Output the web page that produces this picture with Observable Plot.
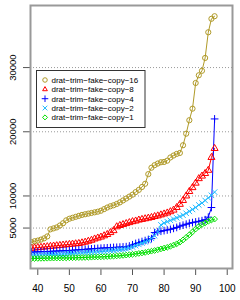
<!DOCTYPE html>
<html><head><meta charset="utf-8">
<script src="https://cdn.jsdelivr.net/npm/d3@7"></script>
<script src="https://cdn.jsdelivr.net/npm/@observablehq/plot@0.6"></script>
<style>body{margin:0;background:#fff} svg{display:block}</style>
</head><body><div id="chart"></div>
<script>
const seriesNames = ["drat−trim−fake−copy−16", "drat−trim−fake−copy−8", "drat−trim−fake−copy−4", "drat−trim−fake−copy−2", "drat−trim−fake−copy−1"];
const colors = ["#b09a28", "#ff0000", "#0000ff", "#22bbff", "#00e000"];
const symbolNames = ["circle", "triangle", "plus", "times", "diamond2"];
const firstX = 38;
const xTicks = [40, 50, 60, 70, 80, 90, 100];
const yTicks = [5000, 10000, 20000, 30000];

const copy16 = [2800,2950,3050,3200,3400,3700,4800,4950,5100,5400,5750,6200,6450,6600,6750,6900,7050,7150,7250,7350,7450,7550,7700,7950,8200,8400,8550,8750,9000,9300,9600,9900,10200,10600,10950,11400,11900,13400,14400,14800,15050,15250,15300,15500,16000,16300,16550,16700,17900,19700,21800,23600,27600,28800,29500,31500,35500,37600,38000];
const copy8 = [1850,1900,1950,2000,2050,2100,2150,2200,2250,2300,2350,2400,2450,2500,2550,2600,2700,2800,2950,3100,3300,3450,3600,3800,4000,4300,4600,5200,5400,5550,5700,5850,6000,6100,6250,6350,6450,6550,6650,6800,6900,7050,7200,7350,7550,7800,8200,8700,9300,10000,10700,11300,12000,12700,13100,13500,14000,16000,17400];
const copy4 = [1250,1270,1290,1310,1330,1350,1370,1390,1410,1430,1450,1480,1510,1540,1570,1600,1640,1680,1720,1760,1800,1830,1860,1890,1920,1950,1980,2000,2030,2060,2100,2200,2400,2600,2750,2900,3050,3200,3350,4300,4400,4500,4600,4700,4800,4950,5100,5300,5450,5600,5750,5850,5950,6050,6150,6300,6700,8200,22000];
const copy2 = [750,770,790,810,830,850,870,890,910,930,960,990,1020,1050,1080,1110,1140,1170,1200,1230,1260,1300,1340,1380,1420,1470,1520,1580,1640,1700,1770,1900,2050,2250,2450,2650,2850,3050,3400,3800,4400,5500,5800,6000,6200,6400,6600,6800,7000,7300,7600,7900,8200,8600,8900,9300,9700,10100,10600];
const copy1 = [250,260,270,280,290,300,310,320,330,340,350,360,370,380,390,400,410,420,440,460,480,500,520,540,560,590,620,660,700,740,790,850,910,980,1050,1120,1200,1300,1400,1500,1620,1750,1880,2000,2150,2350,2550,2800,3150,3550,3950,4400,4850,5250,5550,5800,6050,6250,6400];

const rows = [];
[copy16, copy8, copy4, copy2, copy1].forEach((vals, s) =>
  vals.forEach((v, i) => rows.push({series: seriesNames[s], n: firstX + i, t: v})));

const font = "'Liberation Sans', Arial, Helvetica, sans-serif";

const chart = Plot.plot({
  width: 240, height: 300,
  marginLeft: 30, marginRight: 8, marginTop: 5, marginBottom: 32,
  style: {fontFamily: font, fontSize: "9.5px", background: "#fff", color: "#000"},
  x: {domain: [37.69, 101.67]},
  y: {domain: [-1300, 39670]},
  color: {domain: seriesNames, range: colors},
  symbol: {domain: seriesNames, range: symbolNames},
  marks: [
    Plot.gridY(yTicks, {stroke: "#999", strokeOpacity: 1, strokeDasharray: "1,2"}),
    Plot.line(rows, {x: "n", y: "t", z: "series", stroke: "series", strokeWidth: 1, clip: true}),
    Plot.dot(rows, {x: "n", y: "t", stroke: "series", symbol: "series", r: 2.6, strokeWidth: 1, clip: true}),
    Plot.axisX(xTicks, {tickSize: 7, tickPadding: 9, stroke: "#555", label: null, fontSize: 10}),
    Plot.axisY(yTicks, {tickSize: 7, stroke: "#555", label: null, tickFormat: () => ""}),
    Plot.text(yTicks, {y: d => d, frameAnchor: "left", dx: -18, rotate: -90, text: d => String(d), textAnchor: "middle", fontSize: 9.5}),
    Plot.frame({stroke: "#999", strokeWidth: 2})
  ]
});
document.getElementById("chart").appendChild(chart);

// legend inside plot area
const d3Symbols = [d3.symbolCircle, d3.symbolTriangle2, d3.symbolPlus, d3.symbolTimes, d3.symbolDiamond2];
const svg = d3.select(chart);
const lg = svg.append("g").attr("text-anchor", "start");
lg.append("rect").attr("x", 36.5).attr("y", 70.5).attr("width", 108.5).attr("height", 57)
  .attr("fill", "#fff").attr("stroke", "#333").attr("stroke-width", 1);
seriesNames.forEach((name, i) => {
  const cy = 80 + i * 9.35;
  lg.append("path").attr("d", d3.symbol(d3Symbols[i], 16)())
    .attr("transform", `translate(45,${cy})`).attr("fill", "none").attr("stroke", colors[i]).attr("stroke-width", 1);
  lg.append("text").attr("x", 51.5).attr("y", cy).attr("dy", "0.35em").attr("text-anchor", "start")
    .attr("font-size", 8).attr("font-family", font).attr("fill", "#000").text(name);
});
</script>
</body></html>
